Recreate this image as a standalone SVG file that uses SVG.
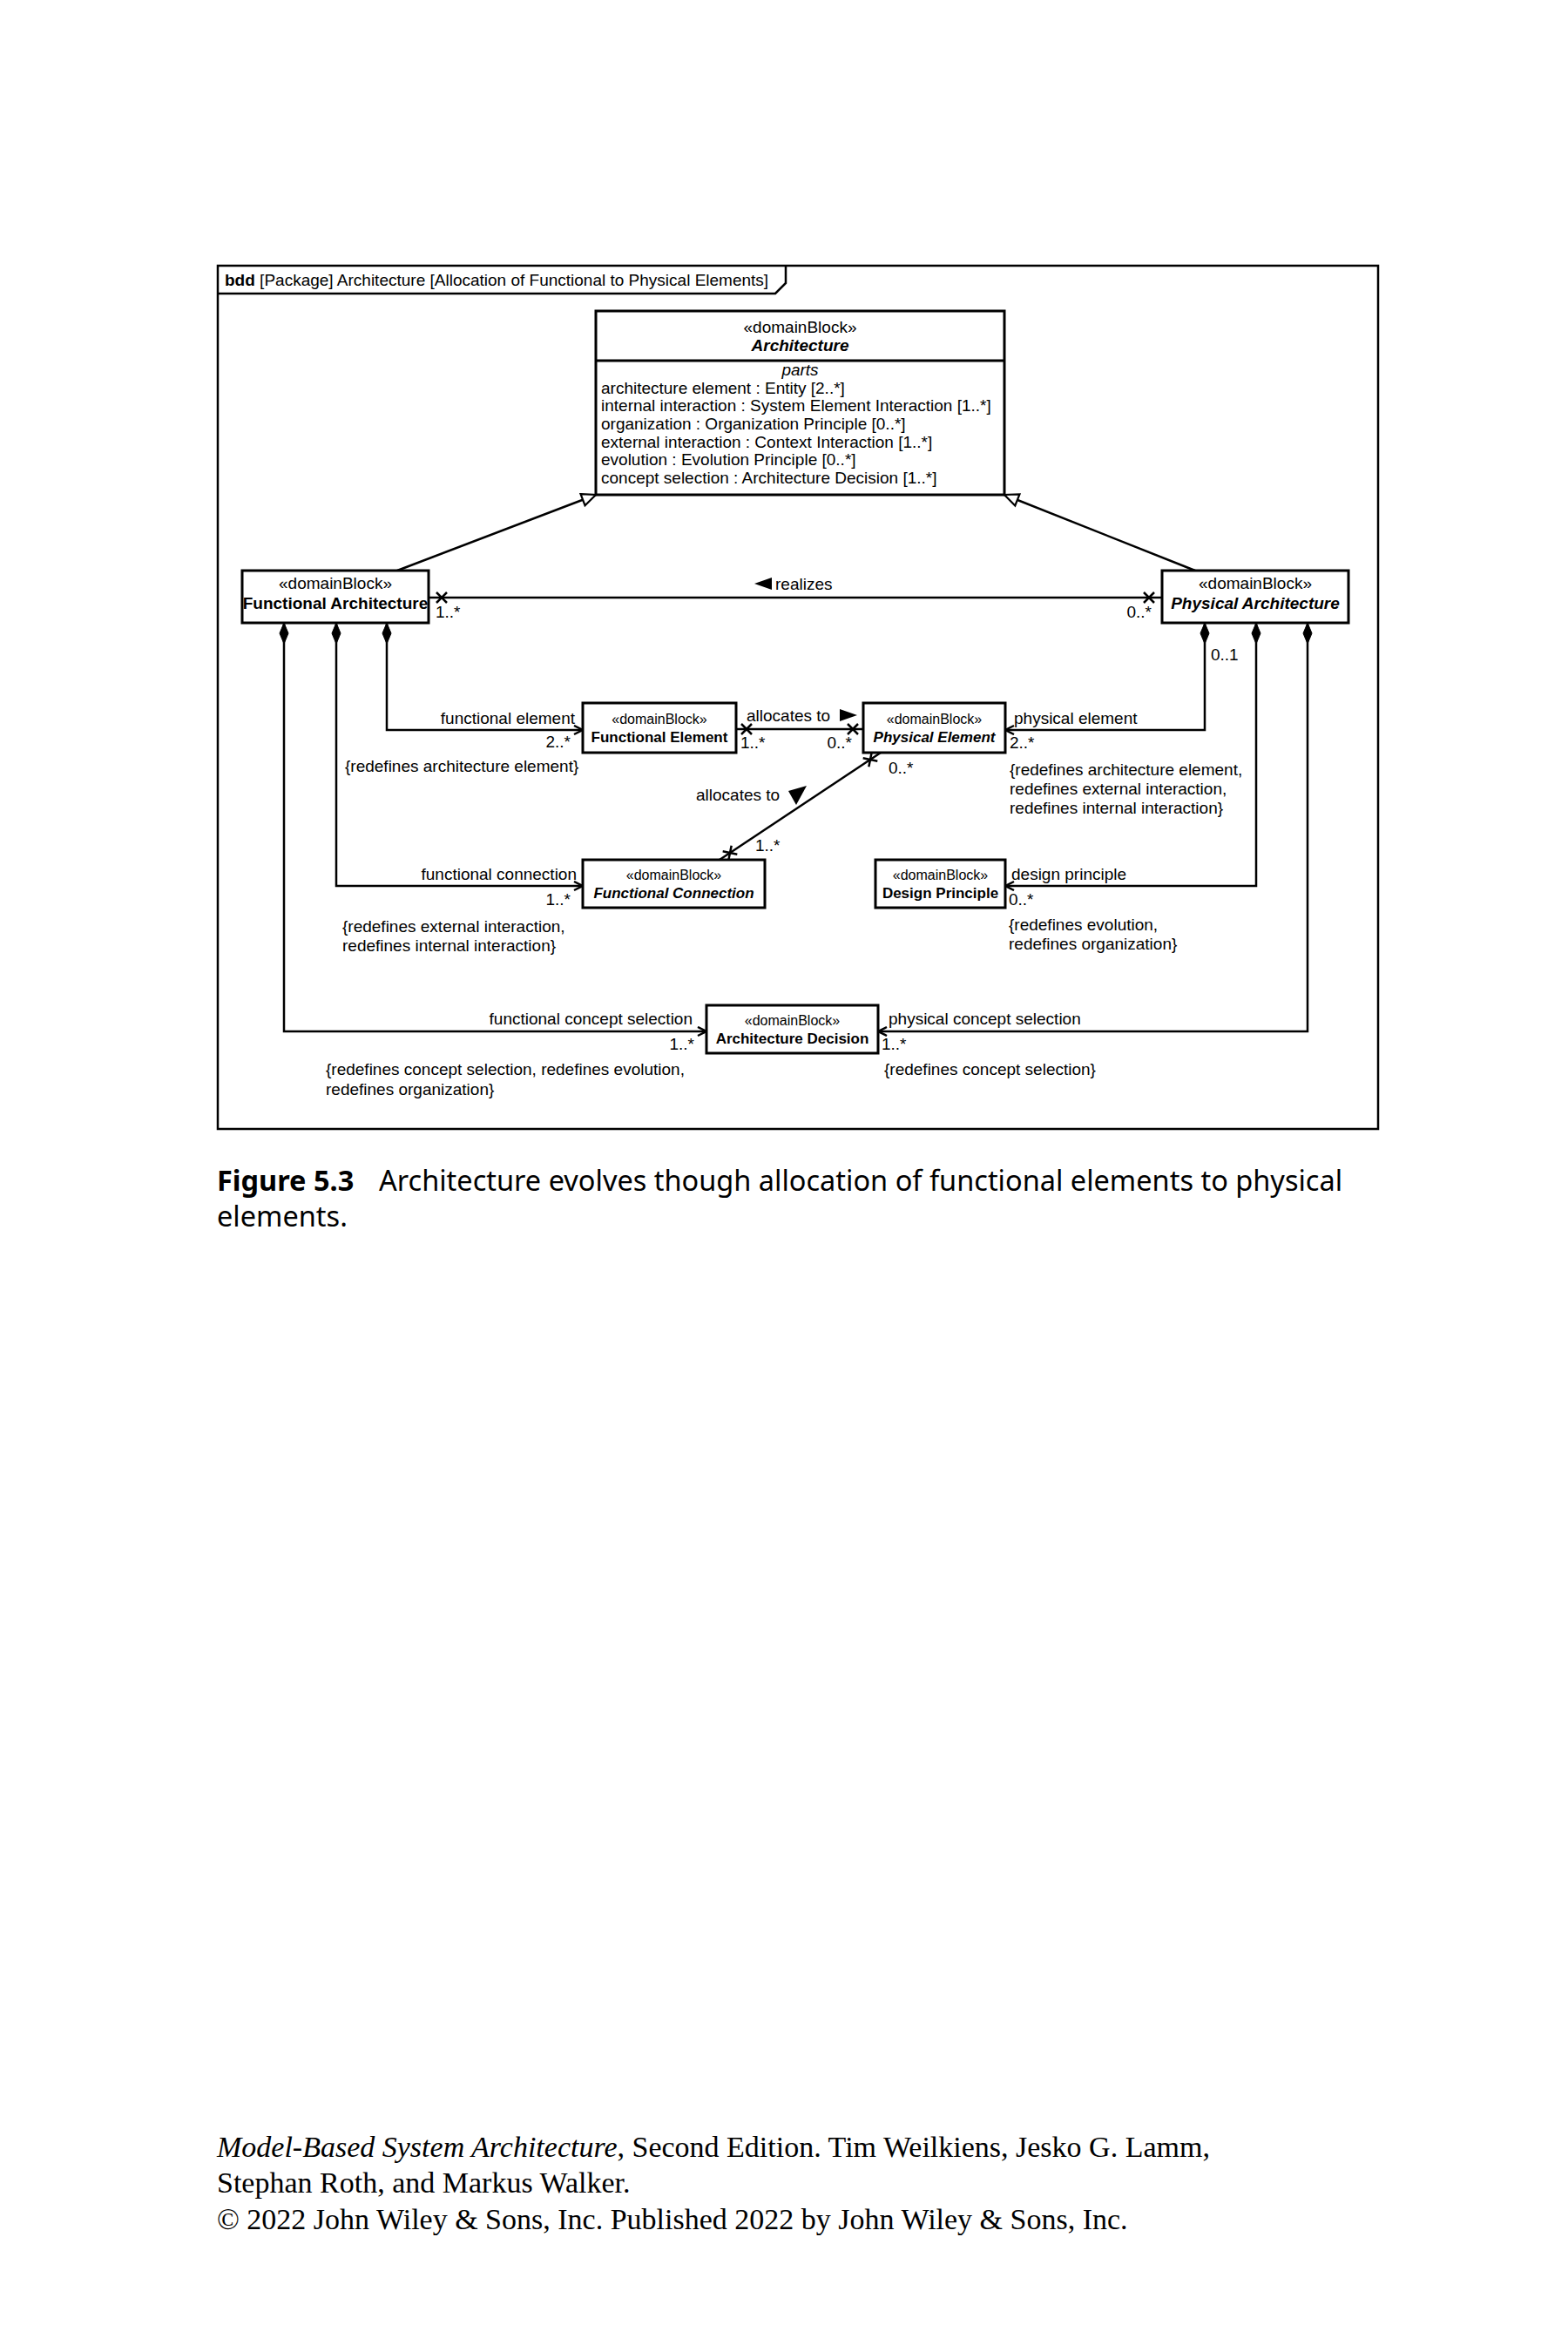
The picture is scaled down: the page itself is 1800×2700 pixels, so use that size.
<svg xmlns="http://www.w3.org/2000/svg" width="1800" height="2700" viewBox="0 0 1800 2700">
<style>
  text { font-family: "Liberation Sans", Arial, sans-serif; font-size: 19px; fill: #000; }
  .st { font-size: 16px; text-anchor: middle; }
  .stL { font-size: 19px; text-anchor: middle; }
  .nm { font-size: 17px; font-weight: bold; text-anchor: middle; }
  .nmL { font-size: 19px; font-weight: bold; text-anchor: middle; }
  .it { font-style: italic; }
  .end { text-anchor: end; }
  .box { fill: #fff; stroke: #000; stroke-width: 3; }
  .ln { fill: none; stroke: #000; stroke-width: 2.5; }
  .x { fill: none; stroke: #000; stroke-width: 2.5; }
  .cap { font-family: "Noto Sans", "Open Sans", sans-serif; font-size: 32.5px; }
  .foot { font-family: "Liberation Serif", "Times New Roman", serif; font-size: 34px; }
</style>
<defs>
  <marker id="open" markerUnits="userSpaceOnUse" markerWidth="14" markerHeight="14" refX="11" refY="6" orient="auto">
    <path d="M1,1 L11,6 L1,11" fill="none" stroke="#000" stroke-width="2.5"/>
  </marker>
  <marker id="gen" markerUnits="userSpaceOnUse" markerWidth="22" markerHeight="22" refX="18" refY="9" orient="auto">
    <path d="M2,2 L18,9 L2,16 Z" fill="#fff" stroke="#000" stroke-width="2.2"/>
  </marker>
</defs>
<rect width="1800" height="2700" fill="#fff"/>

<g id="frame">
  <rect x="250" y="305" width="1332" height="991" fill="none" stroke="#000" stroke-width="2.5"/>
  <path d="M250,337 H890 L902,325 V305" fill="none" stroke="#000" stroke-width="2.5"/>
  <text x="258" y="328" font-size="19.3"><tspan font-weight="bold">bdd</tspan> [Package] Architecture [Allocation of Functional to Physical Elements]</text>
</g>

<g id="connectors">
  <!-- generalizations -->
  <path class="ln" d="M456,655 L684,568" marker-end="url(#gen)"/>
  <path class="ln" d="M1372,655 L1153,568" marker-end="url(#gen)"/>
  <!-- realizes association -->
  <path class="ln" d="M492,686 H1334"/>
  <path class="x" d="M501,680 L513,692 M501,692 L513,680"/>
  <path class="x" d="M1313,680 L1325,692 M1313,692 L1325,680"/>
  <polygon points="866,670 886,663 886,677" fill="#000"/>
  <text x="890" y="677">realizes</text>
  <text x="500" y="709">1..*</text>
  <text x="1322" y="709" class="end">0..*</text>

  <!-- compositions from Functional Architecture -->
  <path class="ln" d="M444,715 V838 H669" marker-end="url(#open)"/>
  <polygon points="444,715 449,727 444,739 439,727" fill="#000" stroke="#000" stroke-width="1"/>
  <path class="ln" d="M386,715 V1017 H669" marker-end="url(#open)"/>
  <polygon points="386,715 391,727 386,739 381,727" fill="#000" stroke="#000" stroke-width="1"/>
  <path class="ln" d="M326,715 V1184 H811" marker-end="url(#open)"/>
  <polygon points="326,715 331,727 326,739 321,727" fill="#000" stroke="#000" stroke-width="1"/>

  <!-- compositions from Physical Architecture -->
  <path class="ln" d="M1383,715 V838 H1154" marker-end="url(#open)"/>
  <polygon points="1383,715 1388,727 1383,739 1378,727" fill="#000" stroke="#000" stroke-width="1"/>
  <path class="ln" d="M1442,715 V1017 H1154" marker-end="url(#open)"/>
  <polygon points="1442,715 1447,727 1442,739 1437,727" fill="#000" stroke="#000" stroke-width="1"/>
  <path class="ln" d="M1501,715 V1184 H1008" marker-end="url(#open)"/>
  <polygon points="1501,715 1506,727 1501,739 1496,727" fill="#000" stroke="#000" stroke-width="1"/>

  <!-- allocates to (FE -> PE) -->
  <path class="ln" d="M845,837 H991"/>
  <path class="x" d="M851,831 L863,843 M851,843 L863,831"/>
  <path class="x" d="M973,831 L985,843 M973,843 L985,831"/>
  <text x="857" y="828">allocates to</text>
  <polygon points="984,821 964,814 964,828" fill="#000"/>
  <text x="850" y="859">1..*</text>
  <text x="978" y="859" class="end">0..*</text>

  <!-- allocates to (FC -> PE) diagonal -->
  <path class="ln" d="M1011,864 L826,987"/>
  <g transform="translate(999,872) rotate(-33.6)"><path class="x" d="M-6,-6 L6,6 M-6,6 L6,-6"/></g>
  <g transform="translate(838,979) rotate(-33.6)"><path class="x" d="M-6,-6 L6,6 M-6,6 L6,-6"/></g>
  <text x="799" y="919">allocates to</text>
  <polygon points="905,908 926,902 914,924" fill="#000"/>
  <text x="1020" y="888">0..*</text>
  <text x="867" y="977">1..*</text>

  <!-- labels FE -->
  <text x="660" y="831" class="end">functional element</text>
  <text x="655" y="858" class="end">2..*</text>
  <text x="396" y="886">{redefines architecture element}</text>
  <!-- labels FC -->
  <text x="662" y="1010" class="end">functional connection</text>
  <text x="655" y="1039" class="end">1..*</text>
  <text x="393" y="1070">{redefines external interaction,</text>
  <text x="393" y="1092">redefines internal interaction}</text>
  <!-- labels AD left -->
  <text x="795" y="1176" class="end">functional concept selection</text>
  <text x="797" y="1205" class="end">1..*</text>
  <text x="374" y="1234">{redefines concept selection, redefines evolution,</text>
  <text x="374" y="1257">redefines organization}</text>
  <!-- labels PE -->
  <text x="1390" y="758">0..1</text>
  <text x="1164" y="831">physical element</text>
  <text x="1159" y="859">2..*</text>
  <text x="1159" y="890">{redefines architecture element,</text>
  <text x="1159" y="912">redefines external interaction,</text>
  <text x="1159" y="934">redefines internal interaction}</text>
  <!-- labels DP -->
  <text x="1161" y="1010">design principle</text>
  <text x="1158" y="1039">0..*</text>
  <text x="1158" y="1068">{redefines evolution,</text>
  <text x="1158" y="1090">redefines organization}</text>
  <!-- labels AD right -->
  <text x="1020" y="1176">physical concept selection</text>
  <text x="1012" y="1205">1..*</text>
  <text x="1015" y="1234">{redefines concept selection}</text>
</g>

<g id="architecture">
  <rect class="box" x="684" y="357" width="469" height="211"/>
  <line x1="684" y1="414" x2="1153" y2="414" stroke="#000" stroke-width="3"/>
  <text x="918.5" y="382" class="stL">«domainBlock»</text>
  <text x="918.5" y="403" class="nmL it">Architecture</text>
  <text x="918.5" y="431" class="it" text-anchor="middle" font-size="17">parts</text>
  <text x="690" y="452">architecture element : Entity [2..*]</text>
  <text x="690" y="472">internal interaction : System Element Interaction [1..*]</text>
  <text x="690" y="493">organization : Organization Principle [0..*]</text>
  <text x="690" y="514">external interaction : Context Interaction [1..*]</text>
  <text x="690" y="534">evolution : Evolution Principle [0..*]</text>
  <text x="690" y="555">concept selection : Architecture Decision [1..*]</text>
</g>

<g id="functional-architecture">
  <rect class="box" x="278" y="655" width="214" height="60"/>
  <text x="385" y="676" class="stL">«domainBlock»</text>
  <text x="385" y="699" class="nmL">Functional Architecture</text>
</g>

<g id="physical-architecture">
  <rect class="box" x="1334" y="655" width="214" height="60"/>
  <text x="1441" y="676" class="stL">«domainBlock»</text>
  <text x="1441" y="699" class="nmL it">Physical Architecture</text>
</g>

<g id="functional-element">
  <rect class="box" x="669" y="807" width="176" height="57"/>
  <text x="757" y="831" class="st">«domainBlock»</text>
  <text x="757" y="852" class="nm">Functional Element</text>
</g>

<g id="physical-element">
  <rect class="box" x="991" y="807" width="163" height="57"/>
  <text x="1072.5" y="831" class="st">«domainBlock»</text>
  <text x="1072.5" y="852" class="nm it">Physical Element</text>
</g>

<g id="functional-connection">
  <rect class="box" x="669" y="987" width="209" height="55"/>
  <text x="773.5" y="1010" class="st">«domainBlock»</text>
  <text x="773.5" y="1031" class="nm it">Functional Connection</text>
</g>

<g id="design-principle">
  <rect class="box" x="1005" y="987" width="149" height="55"/>
  <text x="1079.5" y="1010" class="st">«domainBlock»</text>
  <text x="1079.5" y="1031" class="nm">Design Principle</text>
</g>

<g id="architecture-decision">
  <rect class="box" x="811" y="1154" width="197" height="55"/>
  <text x="909.5" y="1177" class="st">«domainBlock»</text>
  <text x="909.5" y="1198" class="nm">Architecture Decision</text>
</g>

<g id="caption">
  <text x="249" y="1367" class="cap" font-weight="bold">Figure 5.3</text>
  <text x="435" y="1367" class="cap">Architecture evolves though allocation of functional elements to physical</text>
  <text x="249" y="1408" class="cap">elements.</text>
</g>

<g id="footer">
  <text x="249" y="2476" class="foot"><tspan font-style="italic">Model-Based System Architecture</tspan>, Second Edition. Tim Weilkiens, Jesko G. Lamm,</text>
  <text x="249" y="2517" class="foot">Stephan Roth, and Markus Walker.</text>
  <text x="249" y="2559" class="foot">© 2022 John Wiley &amp; Sons, Inc. Published 2022 by John Wiley &amp; Sons, Inc.</text>
</g>
</svg>
